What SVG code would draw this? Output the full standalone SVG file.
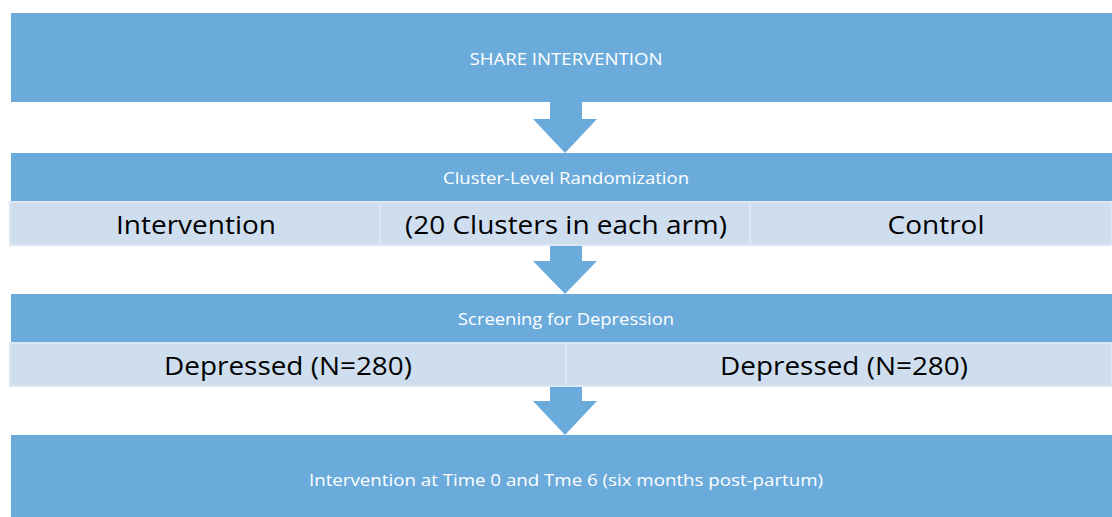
<svg xmlns="http://www.w3.org/2000/svg" width="1112" height="517" viewBox="0 0 1112 517">
<style>
.box{fill:#6BABDC;}
.cell{fill:#CEDEEF;stroke:#DCE7F3;stroke-width:2;}
.arr{fill:#6BABDC;}
.wt{font-family:"Open Sans","Liberation Sans",sans-serif;fill:#FFFFFF;font-size:16px;text-anchor:middle;}
.bt{font-family:"Open Sans","Liberation Sans",sans-serif;fill:#000000;font-size:26px;text-anchor:middle;}
</style>
<rect width="1112" height="517" fill="#FFFFFF"/>
<g id="connectors">
<polygon class="arr" points="550,101 582,101 582,119 597,119 565,153 533,119 550,119"/>
<polygon class="arr" points="550,245 582,245 582,261 597,261 565,294 533,261 550,261"/>
<polygon class="arr" points="550,386 582,386 582,401 597,401 565,435 533,401 550,401"/>
</g>
<g id="share">
<rect class="box" x="11" y="13" width="1101" height="89"/>
<text class="wt" x="566" y="65" textLength="193" lengthAdjust="spacingAndGlyphs">SHARE INTERVENTION</text>
</g>
<g id="randomization">
<rect class="box" x="11" y="153" width="1101" height="48"/>
<text class="wt" x="566" y="184" textLength="246" lengthAdjust="spacingAndGlyphs">Cluster-Level Randomization</text>
</g>
<g id="intervention-arm">
<rect class="cell" x="10" y="202" width="370" height="43"/>
<text class="bt" x="196" y="234" textLength="160" lengthAdjust="spacingAndGlyphs">Intervention</text>
</g>
<g id="clusters">
<rect class="cell" x="380" y="202" width="370" height="43"/>
<text class="bt" x="566" y="234" textLength="322" lengthAdjust="spacingAndGlyphs">(20 Clusters in each arm)</text>
</g>
<g id="control-arm">
<rect class="cell" x="750" y="202" width="362" height="43"/>
<text class="bt" x="936" y="234" textLength="97" lengthAdjust="spacingAndGlyphs">Control</text>
</g>
<g id="screening">
<rect class="box" x="11" y="294" width="1101" height="48"/>
<text class="wt" x="566" y="325" textLength="216" lengthAdjust="spacingAndGlyphs">Screening for Depression</text>
</g>
<g id="depressed-left">
<rect class="cell" x="10" y="343" width="556" height="43"/>
<text class="bt" x="288" y="375" textLength="248" lengthAdjust="spacingAndGlyphs">Depressed (N=280)</text>
</g>
<g id="depressed-right">
<rect class="cell" x="566" y="343" width="546" height="43"/>
<text class="bt" x="844" y="375" textLength="248" lengthAdjust="spacingAndGlyphs">Depressed (N=280)</text>
</g>
<g id="followup">
<rect class="box" x="11" y="435" width="1101" height="82"/>
<text class="wt" x="566" y="486" textLength="514" lengthAdjust="spacingAndGlyphs">Intervention at Time 0 and Tme 6 (six months post-partum)</text>
</g>
</svg>
